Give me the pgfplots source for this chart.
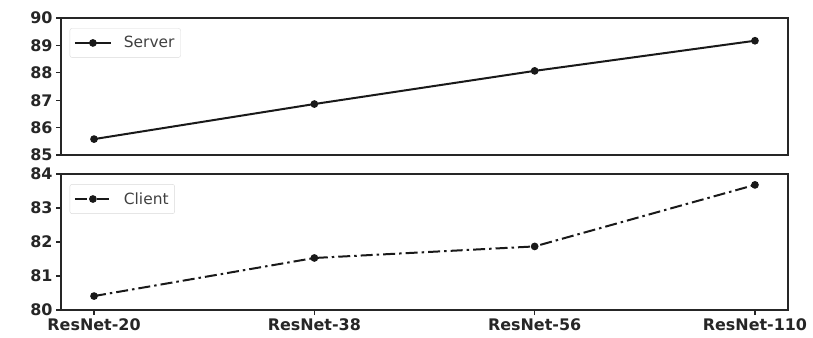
\documentclass[border=0pt]{standalone}
\usepackage{pgfplots}
\pgfplotsset{compat=1.18}
\usepackage{fontspec}
\setmainfont{DejaVu Sans}
\begin{document}
\begin{tikzpicture}
\useasboundingbox (0bp,0bp) rectangle (813bp,-338bp);
\pgfplotsset{
  myaxis/.style={
    scale only axis, width=727bp,
    xmin=-0.15, xmax=3.15,
    axis line style={line width=1.6bp, black!85},
    tick style={line width=1.2bp, black!85},
    tick align=outside, major tick length=5bp,
    xtick pos=bottom, ytick pos=left,
    ticklabel style={font=\fontsize{16}{18}\selectfont\bfseries, text=black!85},
    /pgf/number format/assume math mode=true,
    legend cell align=left,
    legend image code/.code={\draw[mark repeat=2,mark phase=2,##1] plot coordinates {(0bp,0bp) (18bp,0bp) (36bp,0bp)}; \path (46bp,0bp);},
    legend style={draw=black!15, rounded corners=2bp, font=\fontsize{15.5}{18}\selectfont, text=black!75, inner xsep=4bp, inner ysep=6bp, at={(0.012,0.925)}, anchor=north west},
  }
}
\begin{axis}[myaxis, at={(61bp,-155bp)}, anchor=south west, height=137bp,
  ymin=85, ymax=90, ytick={85,86,87,88,89,90}, xtick=\empty]
\addplot[black!90, line width=2bp, mark=*, mark size=2.8bp] coordinates {(0,85.58) (1,86.86) (2,88.07) (3,89.17)};
\addlegendentry{Server}
\end{axis}
\begin{axis}[myaxis, at={(61bp,-310bp)}, anchor=south west, height=136bp,
  ymin=80, ymax=84, ytick={80,81,82,83,84},
  xtick={0,1,2,3}, xticklabels={ResNet-20,ResNet-38,ResNet-56,ResNet-110}]
\addplot[black!90, line width=2bp, mark=*, mark size=2.8bp, mark options={solid}, dash pattern=on 12bp off 4bp on 2.5bp off 4bp] coordinates {(0,80.41) (1,81.53) (2,81.87) (3,83.68)};
\addlegendentry{Client}
\end{axis}
\end{tikzpicture}
\end{document}
